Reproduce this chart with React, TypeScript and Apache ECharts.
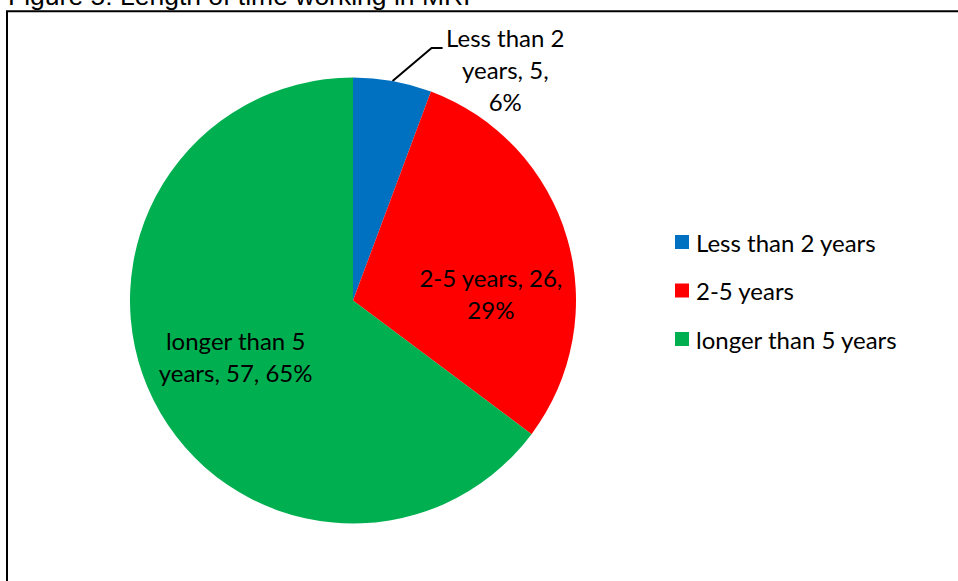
import React, { useEffect, useRef } from "react";
import * as echarts from "echarts";

const titleText = "Figure 5: Length of time working in MRI";
const categories = ["Less than 2 years", "2-5 years", "longer than 5 years"];
const values = [5, 26, 57];
const colors = ["#0070C0", "#FF0000", "#00B050"];
const labelTemplates = [
  "Less than 2\nyears, {c},\n{d}%",
  "2-5 years, {c},\n{d}%",
  "longer than 5\nyears, {c}, {d}%",
];
const labelShift = [
  { dx: 95, dy: 3 },
  { dx: 28, dy: 25 },
  { dx: -15, dy: 5 },
];

export default function App() {
  const ref = useRef<HTMLDivElement>(null);
  useEffect(() => {
    if (!ref.current) return;
    const chart = echarts.init(ref.current, undefined, { renderer: "svg" });
    const font = "Lato, 'Open Sans', sans-serif";
    chart.setOption({
      animation: false,
      backgroundColor: "#fff",
      graphic: [
        {
          type: "rect",
          shape: { x: 7, y: 11.3, width: 1000, height: 700 },
          style: { fill: "none", stroke: "#000", lineWidth: 2 },
          silent: true,
        },
        {
          type: "text",
          x: 8,
          y: -4,
          style: {
            text: titleText,
            font: "26.5px 'Liberation Sans', Arial, sans-serif",
            fill: "#000",
            align: "left",
            verticalAlign: "middle",
          },
        },
      ],
      legend: {
        orient: "vertical",
        left: 675,
        top: 230,
        padding: 0,
        itemWidth: 14,
        itemHeight: 14,
        itemGap: 24.5,
        icon: "rect",
        data: categories,
        textStyle: {
          fontFamily: font,
          fontSize: 24,
          color: "#000",
          padding: [0, 0, 0, 2],
        },
      },
      series: [
        {
          type: "pie",
          center: [353, 300.5],
          radius: 223,
          startAngle: 90,
          clockwise: true,
          percentPrecision: 0,
          data: categories.map((name, i) => ({
            name,
            value: values[i],
            itemStyle: { color: colors[i] },
            label: {
              formatter: labelTemplates[i],
              position: i === 0 ? "outside" : "inside",
            },
            labelLine: { show: i === 0 },
          })),
          label: {
            show: true,
            color: "#000",
            fontFamily: font,
            fontSize: 24,
            lineHeight: 32,
            align: "center",
          },
          labelLine: {
            show: true,
            length: 15,
            length2: 10,
            lineStyle: { color: "#000", width: 2 },
          },
          labelLayout: (p: any) => {
            const out: any = {
              dx: labelShift[p.dataIndex].dx,
              dy: labelShift[p.dataIndex].dy,
              align: "center",
            };
            if (p.dataIndex === 0 && p.labelLinePoints) {
              const a = p.labelLinePoints[0];
              const elbow = [a[0] + 39, a[1] - 33];
              const end = [elbow[0] + 11, elbow[1]];
              out.labelLinePoints = [a, elbow, end];
            }
            return out;
          },
        },
      ],
    });
    return () => chart.dispose();
  }, []);
  return (
    <div
      ref={ref}
      style={{ position: "absolute", left: 0, top: 0, width: 958, height: 581 }}
    />
  );
}
